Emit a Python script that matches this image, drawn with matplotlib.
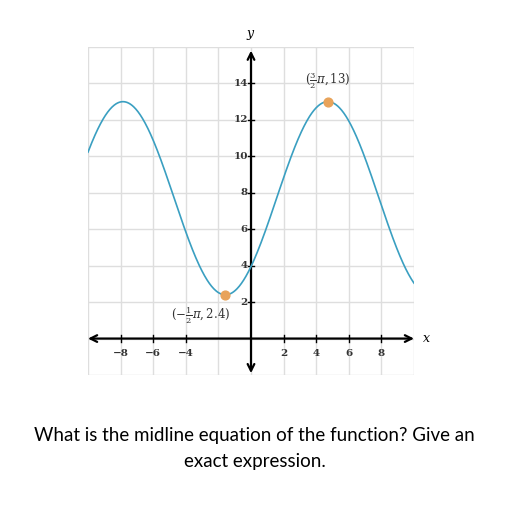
import numpy as np
import matplotlib
matplotlib.use("Agg")
from matplotlib import pyplot as plt

# Extremes (labelled points)
max_pt = (1.5 * np.pi, 13)
min_pt = (-0.5 * np.pi, 2.4)
max_label = r"$(\frac{3}{2}\pi, 13)$"
min_label = r"$(-\frac{1}{2}\pi, 2.4)$"

x_ticks = [-8, -6, -4, 2, 4, 6, 8]
y_ticks = [2, 4, 6, 8, 10, 12, 14]
x_range = (-10, 10)
y_range = (-2, 16)
question = "What is the midline equation of the function? Give an\nexact expression."

curve_color = "#3a9fc1"
point_color = "#e8a35a"

plt.rcParams["mathtext.fontset"] = "dejavuserif"

fig = plt.figure(figsize=(5.12, 5.12), dpi=100)
ax = fig.add_axes([88 / 512, 1 - 375 / 512, 326 / 512, 328 / 512])
ax.set_xlim(*x_range)
ax.set_ylim(*y_range)
for s in ax.spines.values():
    s.set_visible(False)
ax.set_xticks([])
ax.set_yticks([])

# Grid
for gx in range(x_range[0], x_range[1] + 1, 2):
    ax.axvline(gx, color="#dedede", lw=1, zorder=0)
for gy in range(y_range[0], y_range[1] + 1, 2):
    ax.axhline(gy, color="#dedede", lw=1, zorder=0)

# Axes with arrows
ax.annotate("", xy=(x_range[1], 0), xytext=(x_range[0], 0),
            arrowprops=dict(arrowstyle="<->", lw=1.6, color="black", mutation_scale=12,
                            shrinkA=0, shrinkB=0))
ax.annotate("", xy=(0, 15.8), xytext=(0, -1.9),
            arrowprops=dict(arrowstyle="<->", lw=1.6, color="black", mutation_scale=12,
                            shrinkA=0, shrinkB=0))

# Ticks and labels
for t in x_ticks:
    ax.plot([t, t], [-0.2, 0.2], color="black", lw=1)
    lab = str(t).replace("-", "\u2212")
    ax.text(t, -0.6, lab, ha="center", va="top", fontsize=7.5, family="DejaVu Serif",
            fontweight="bold", color="#333333")
for t in y_ticks:
    ax.plot([-0.2, 0.2], [t, t], color="black", lw=1)
    ax.text(-0.2, t, str(t), ha="right", va="center", fontsize=7.5, family="DejaVu Serif",
            fontweight="bold", color="#333333")

ax.text(0, 16.3, "$y$", ha="center", va="bottom", fontsize=9, clip_on=False)
ax.text(10.5, 0, "$x$", ha="left", va="center", fontsize=9, clip_on=False)

# Curve through the two extremes
mid = (max_pt[1] + min_pt[1]) / 2
amp = (max_pt[1] - min_pt[1]) / 2
half_period = max_pt[0] - min_pt[0]
xs = np.linspace(x_range[0], x_range[1], 600)
ys = mid + amp * np.cos(np.pi * (xs - max_pt[0]) / half_period)
ax.plot(xs, ys, color=curve_color, lw=1.2, zorder=3)

ax.scatter([max_pt[0], min_pt[0]], [max_pt[1], min_pt[1]], s=40, color=point_color, zorder=4)
ax.text(max_pt[0], max_pt[1] + 0.6, max_label, ha="center", va="bottom", fontsize=8.5,
        color="#333333")
ax.text(min_pt[0] - 1.5, min_pt[1] - 0.5, min_label, ha="center", va="top", fontsize=8.5,
        color="#333333")

fig.text(0.497, 1 - 448.5 / 512, question, ha="center", va="center", fontsize=13.5,
         family="Lato", linespacing=1.6)

fig.savefig("out.png", dpi=100)
